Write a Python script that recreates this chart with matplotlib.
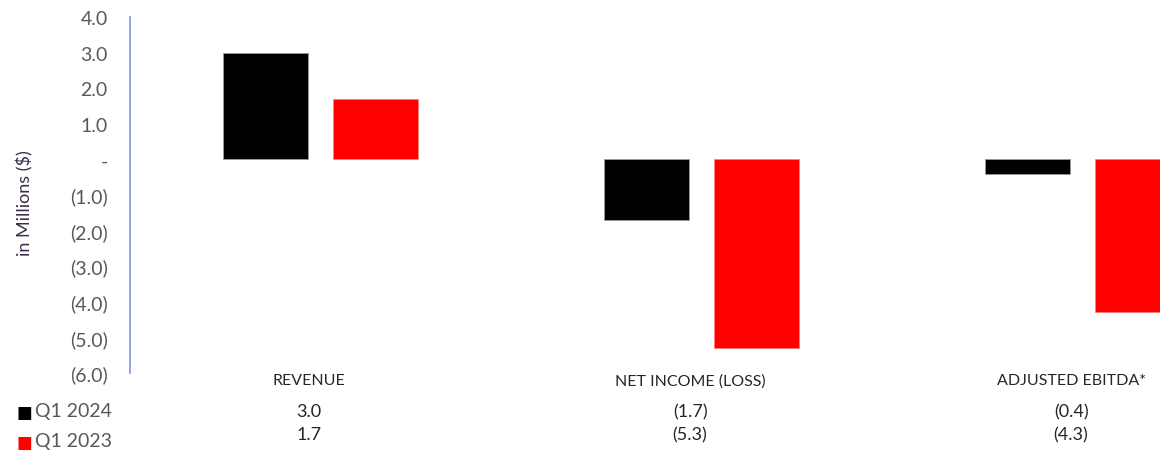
import numpy as np
import matplotlib.pyplot as plt

plt.rcParams['font.family'] = ['Lato', 'DejaVu Sans']

categories = ['REVENUE', 'NET INCOME (LOSS)', 'ADJUSTED EBITDA*']
series_names = ['Q1 2024', 'Q1 2023']
q1_2024 = [3.0, -1.7, -0.4]
q1_2023 = [1.7, -5.3, -4.3]
colors = ['#000000', '#ff0000']
yticks = [4, 3, 2, 1, 0, -1, -2, -3, -4, -5, -6]


def fmt(v):
    if v == 0:
        return '-'
    if v < 0:
        return '(%.1f)' % abs(v)
    return '%.1f' % v


W, H = 1160, 452
fig = plt.figure(figsize=(W / 100, H / 100), dpi=100)
# axes runs past the right edge of the figure, like the cropped original
ax = fig.add_axes([130 / W, 78 / H, 1143 / W, 356 / H])

x = np.arange(len(categories))
off = 0.144
bw = 0.224
ax.bar(x - off, q1_2024, bw, color=colors[0], edgecolor='#9a9a9a', linewidth=0.6)
ax.bar(x + off, q1_2023, bw, color=colors[1], edgecolor='#ff8080', linewidth=0.6)

ax.set_xlim(-0.5, 2.5)
ax.set_ylim(-6, 4)
ax.set_yticks(yticks)
ax.set_yticklabels([fmt(v) for v in yticks])
ax.tick_params(axis='y', length=0, pad=16, labelsize=14, labelcolor='#595959')
ax.set_xticks([])
for s in ['top', 'right', 'bottom']:
    ax.spines[s].set_visible(False)
ax.spines['left'].set_color('#7a9bd4')
ax.spines['left'].set_linewidth(1.2)

fig.text(25 / W, 1 - 203 / H, 'in Millions ($)', rotation=90, ha='center',
         va='center', fontsize=13, color='#3b2d4a')

# data table under the chart
tr = ax.get_xaxis_transform()
rows = [q1_2024, q1_2023]
for i, cat in enumerate(categories):
    ax.text(i - 0.03, -0.02, cat, transform=tr, ha='center', va='center',
            fontsize=11.5, color='#262626', clip_on=False)
    for r, vals in enumerate(rows):
        ax.text(i - 0.03, -0.107 - 0.065 * r, fmt(vals[i]), transform=tr,
                ha='center', va='center', fontsize=13, color='#262626',
                clip_on=False)

for r, name in enumerate(series_names):
    yy = 1 - (413 + 30 * r) / H
    fig.text(17 / W, yy, '\u25A0', color=colors[r], fontsize=12,
             ha='left', va='center', family=['DejaVu Sans'])
    fig.text(35 / W, 1 - (412 + 30 * r) / H, name, color='#595959',
             fontsize=14, ha='left', va='center')

fig.savefig('out.png', dpi=100)
